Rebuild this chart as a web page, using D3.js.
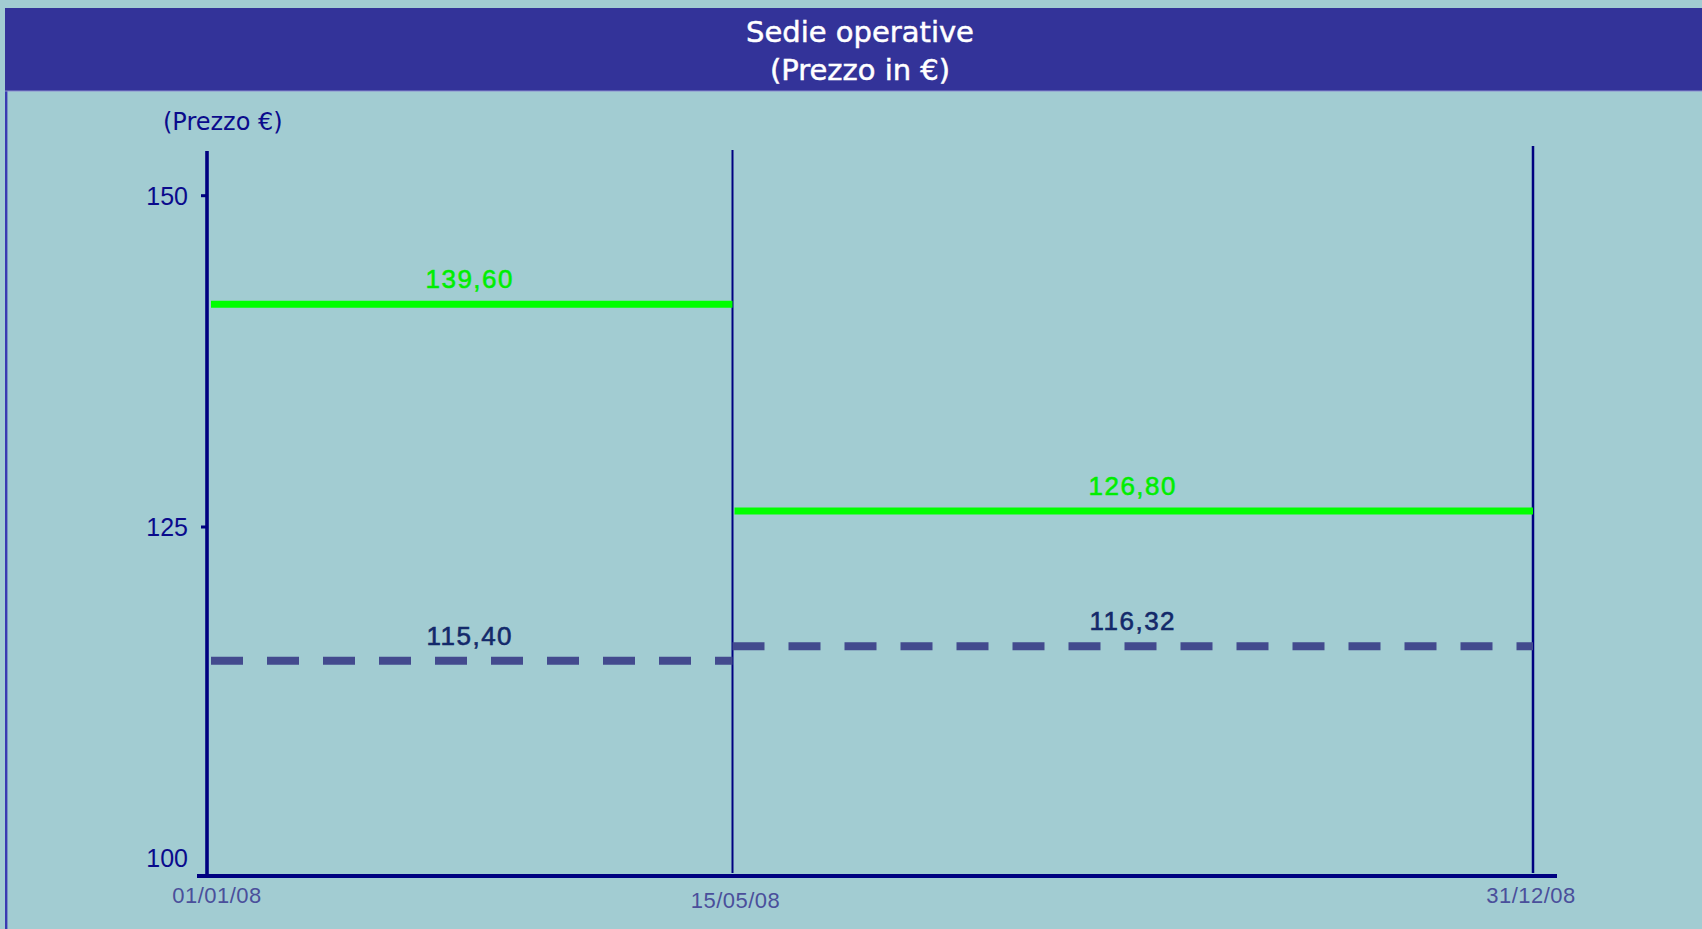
<!DOCTYPE html>
<html>
<head>
<meta charset="utf-8">
<script src="https://cdn.jsdelivr.net/npm/d3@7/dist/d3.min.js"></script>
<style>
  html, body { margin: 0; padding: 0; background: #a2ccd2; overflow: hidden; }
  svg { display: block; }
</style>
</head>
<body>
<svg id="chart" width="1702" height="929"></svg>
<script>
// ---- data ----
const titleLines = ["Sedie operative", "(Prezzo in €)"];
const yAxisTitle = "(Prezzo €)";
const dates = ["2008-01-01", "2008-05-15", "2008-12-31"];
const dateLabels = ["01/01/08", "15/05/08", "31/12/08"];
const yTicks = [100, 125, 150];
// solid green series (drawn level per period) and its labels
const greenLevels = [141.8, 126.2];
const greenLabels = ["139,60", "126,80"];
// dashed series (drawn level per period) and its labels
const dashLevels = [114.9, 116.0];
const dashLabels = ["115,40", "116,32"];

// ---- layout ----
const W = 1702, H = 929;
const svg = d3.select("#chart");
const parse = d3.timeParse("%Y-%m-%d");
const dateVals = dates.map(parse);

const x = d3.scaleTime().domain(dateVals).range([207, 732.5, 1533]);
const y = d3.scaleLinear().domain([100, 150]).range([858.3, 195.7]);

// background
svg.append("rect").attr("width", W).attr("height", H).attr("fill", "#a2ccd2");
// left frame line
svg.append("rect").attr("x", 5).attr("y", 8).attr("width", 2.4).attr("height", H - 8).attr("fill", "#3a3ab2");

// title bar
svg.append("rect").attr("x", 5).attr("y", 8).attr("width", W - 5).attr("height", 83).attr("fill", "#333399");
svg.append("rect").attr("x", 5).attr("y", 90.5).attr("width", W - 5).attr("height", 1).attr("fill", "#8c8cd0");
svg.selectAll("text.title").data(titleLines).join("text")
  .attr("class", "title")
  .attr("x", 860).attr("y", (d, i) => 41.5 + i * 38)
  .attr("text-anchor", "middle")
  .attr("font-family", "DejaVu Sans, sans-serif")
  .attr("font-size", 29)
  .attr("fill", "#ffffff")
  .attr("stroke", "#ffffff").attr("stroke-width", 0.5)
  .text(d => d);

// y axis title
svg.append("text").attr("x", 163).attr("y", 130)
  .attr("font-family", "DejaVu Sans, sans-serif").attr("font-size", 24)
  .attr("fill", "#0a0a8c").text(yAxisTitle);

const axisColor = "#000080";
const x0 = x(dateVals[0]);
const xEnd = x(dateVals[dateVals.length - 1]);
const yBase = 876;

// vertical separators
svg.selectAll("line.sep").data(dateVals.slice(1)).join("line")
  .attr("class", "sep")
  .attr("x1", d => x(d)).attr("x2", d => x(d))
  .attr("y1", (d, i) => i === 0 ? 150 : 146).attr("y2", 873)
  .attr("stroke", axisColor).attr("stroke-width", (d, i) => i === 0 ? 2 : 2.5);

// y axis line
svg.append("line").attr("x1", x0).attr("x2", x0).attr("y1", 151).attr("y2", yBase)
  .attr("stroke", axisColor).attr("stroke-width", 3.6);
// x axis line
svg.append("line").attr("x1", x0 - 10).attr("x2", xEnd + 24).attr("y1", yBase).attr("y2", yBase)
  .attr("stroke", axisColor).attr("stroke-width", 4);

// y ticks
svg.selectAll("line.ytick").data(yTicks.filter(t => t !== 100)).join("line")
  .attr("class", "ytick")
  .attr("x1", x0 - 6).attr("x2", x0).attr("y1", d => y(d)).attr("y2", d => y(d))
  .attr("stroke", axisColor).attr("stroke-width", 3);
svg.selectAll("text.ylab").data(yTicks).join("text")
  .attr("class", "ylab")
  .attr("x", 188).attr("y", d => y(d)).attr("dy", "0.36em")
  .attr("text-anchor", "end")
  .attr("font-family", "Liberation Sans, Arial, sans-serif").attr("font-size", 25)
  .attr("fill", "#0a0a8c").text(d => d);

// x labels
const xNudge = [10, 3, -2];
const yNudge = [903, 908, 903];
svg.selectAll("text.xlab").data(dateLabels).join("text")
  .attr("class", "xlab")
  .attr("x", (d, i) => x(dateVals[i]) + xNudge[i]).attr("y", (d, i) => yNudge[i])
  .attr("text-anchor", "middle")
  .attr("font-family", "Liberation Sans, Arial, sans-serif").attr("font-size", 22)
  .attr("letter-spacing", 0.5)
  .attr("fill", "#4a4f9b").text(d => d);

// segments
const segs = (levels, labels) => levels.map((v, i) => ({
  v, label: labels[i], x1: dateVals[i], x2: dateVals[i + 1], i
}));

const dashData = segs(dashLevels, dashLabels);
svg.selectAll("line.dash").data(dashData).join("line")
  .attr("class", "dash")
  .attr("x1", d => x(d.x1) + (d.i === 0 ? 4 : 0)).attr("x2", d => x(d.x2))
  .attr("y1", d => y(d.v)).attr("y2", d => y(d.v))
  .attr("stroke", "#434a8e").attr("stroke-width", 8)
  .attr("stroke-dasharray", "32 24");

const greenData = segs(greenLevels, greenLabels);
svg.selectAll("line.green").data(greenData).join("line")
  .attr("class", "green")
  .attr("x1", d => x(d.x1) + (d.i === 0 ? 4 : 2)).attr("x2", d => x(d.x2))
  .attr("y1", d => y(d.v)).attr("y2", d => y(d.v))
  .attr("stroke", "#00ff00").attr("stroke-width", 7);

const labelAll = greenData.map(d => ({ ...d, color: "#00ee00" }))
  .concat(dashData.map(d => ({ ...d, color: "#13296a" })));
svg.selectAll("text.vlab").data(labelAll).join("text")
  .attr("class", "vlab")
  .attr("x", d => (x(d.x1) + x(d.x2)) / 2)
  .attr("y", d => y(d.v) - 16)
  .attr("text-anchor", "middle")
  .attr("font-family", "Liberation Sans, Arial, sans-serif").attr("font-size", 26)
  .attr("letter-spacing", 1.5)
  .attr("fill", d => d.color)
  .attr("stroke", d => d.color).attr("stroke-width", 0.6)
  .text(d => d.label);
</script>
</body>
</html>
